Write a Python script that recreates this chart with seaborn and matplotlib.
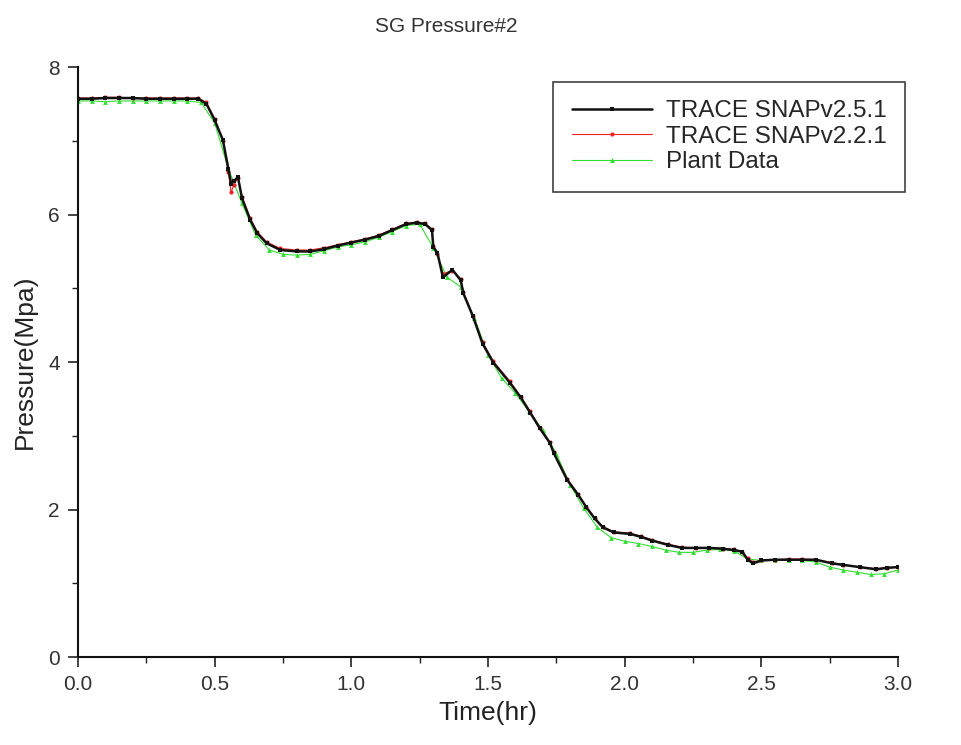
import matplotlib
matplotlib.use("Agg")
import matplotlib.pyplot as plt
import seaborn as sns
import numpy as np
from matplotlib.ticker import MultipleLocator

# ---- data ----
t_sim = [0.00, 0.05, 0.10, 0.15, 0.20, 0.25, 0.30, 0.35, 0.40, 0.44,
         0.47, 0.50, 0.53, 0.55, 0.56, 0.57, 0.585, 0.60, 0.63, 0.655,
         0.69, 0.74, 0.80, 0.85, 0.90, 0.95, 1.00, 1.05, 1.10, 1.15,
         1.20, 1.24, 1.27, 1.295, 1.30, 1.315, 1.335, 1.37, 1.40, 1.41,
         1.445, 1.48, 1.52, 1.58, 1.62, 1.655, 1.69, 1.727, 1.74, 1.79,
         1.83, 1.86, 1.89, 1.92, 1.96, 2.02, 2.06, 2.10, 2.16, 2.21,
         2.26, 2.31, 2.36, 2.40, 2.43, 2.45, 2.47, 2.50, 2.55, 2.60,
         2.65, 2.70, 2.76, 2.80, 2.86, 2.92, 2.96, 3.00]

p_v251 = [7.57, 7.57, 7.58, 7.58, 7.58, 7.57, 7.57, 7.57, 7.57, 7.57,
          7.50, 7.28, 7.01, 6.62, 6.42, 6.45, 6.51, 6.22, 5.93, 5.75,
          5.61, 5.52, 5.50, 5.50, 5.53, 5.58, 5.62, 5.66, 5.71, 5.79,
          5.87, 5.89, 5.87, 5.79, 5.56, 5.48, 5.15, 5.25, 5.11, 4.93,
          4.62, 4.25, 3.99, 3.72, 3.52, 3.31, 3.10, 2.90, 2.77, 2.40,
          2.20, 2.03, 1.88, 1.76, 1.69, 1.67, 1.63, 1.58, 1.52, 1.48,
          1.48, 1.48, 1.47, 1.45, 1.43, 1.32, 1.27, 1.31, 1.32, 1.32,
          1.32, 1.32, 1.27, 1.25, 1.22, 1.19, 1.21, 1.22]

p_v221 = [7.58, 7.58, 7.59, 7.59, 7.58, 7.58, 7.58, 7.58, 7.58, 7.58,
          7.52, 7.30, 7.00, 6.58, 6.30, 6.40, 6.50, 6.24, 5.95, 5.77,
          5.63, 5.54, 5.52, 5.52, 5.55, 5.59, 5.63, 5.67, 5.72, 5.80,
          5.88, 5.90, 5.88, 5.80, 5.58, 5.46, 5.20, 5.24, 5.13, 4.95,
          4.63, 4.27, 4.01, 3.74, 3.53, 3.33, 3.11, 2.91, 2.78, 2.42,
          2.21, 2.04, 1.89, 1.77, 1.70, 1.68, 1.64, 1.59, 1.53, 1.49,
          1.48, 1.48, 1.47, 1.46, 1.43, 1.34, 1.29, 1.31, 1.32, 1.33,
          1.33, 1.32, 1.28, 1.25, 1.22, 1.20, 1.21, 1.22]

t_plant = [0.00, 0.05, 0.10, 0.15, 0.20, 0.25, 0.30, 0.35, 0.40, 0.45,
           0.50, 0.55, 0.60, 0.65, 0.70, 0.75, 0.80, 0.85, 0.90, 0.95,
           1.00, 1.05, 1.10, 1.15, 1.20, 1.25, 1.30, 1.35, 1.40, 1.45,
           1.50, 1.55, 1.60, 1.65, 1.70, 1.75, 1.80, 1.85, 1.90, 1.95,
           2.00, 2.05, 2.10, 2.15, 2.20, 2.25, 2.30, 2.35, 2.40, 2.45,
           2.50, 2.55, 2.60, 2.65, 2.70, 2.75, 2.80, 2.85, 2.90, 2.95,
           3.00]

p_plant = [7.54, 7.54, 7.53, 7.54, 7.54, 7.54, 7.54, 7.54, 7.54, 7.52,
           7.24, 6.62, 6.15, 5.72, 5.52, 5.46, 5.45, 5.46, 5.51, 5.56,
           5.59, 5.63, 5.69, 5.77, 5.85, 5.87, 5.55, 5.15, 5.02, 4.60,
           4.10, 3.78, 3.58, 3.33, 3.08, 2.76, 2.34, 2.02, 1.76, 1.62,
           1.57, 1.54, 1.50, 1.45, 1.42, 1.42, 1.45, 1.46, 1.44, 1.33,
           1.31, 1.32, 1.32, 1.31, 1.29, 1.22, 1.18, 1.15, 1.12, 1.13,
           1.18]

x_ticks = [0.0, 0.5, 1.0, 1.5, 2.0, 2.5, 3.0]
y_ticks = [0, 2, 4, 6, 8]

# ---- style ----
sns.set_theme(style="ticks")
plt.rcParams['font.family'] = ['Liberation Sans', 'DejaVu Sans']

fig = plt.figure(figsize=(9.61, 7.45), dpi=100)
ax = fig.add_axes([0.0812, 0.118, 0.8532, 0.792])

sns.lineplot(x=t_plant, y=p_plant, ax=ax, color="#33dd33", linewidth=0.8,
             marker="^", markersize=3.5, markeredgewidth=0, label="Plant Data",
             sort=False, estimator=None)
sns.lineplot(x=t_sim, y=p_v221, ax=ax, color="#ee2222", linewidth=0.8,
             marker="o", markersize=3.0, markeredgewidth=0, label="TRACE SNAPv2.2.1",
             sort=False, estimator=None)
sns.lineplot(x=t_sim, y=p_v251, ax=ax, color="#111111", linewidth=1.8,
             marker="s", markersize=3.0, markeredgewidth=0, label="TRACE SNAPv2.5.1",
             sort=False, estimator=None)

ax.set_xlim(0, 3.0)
ax.set_ylim(0, 8)
ax.set_xticks(x_ticks)
ax.set_xticklabels([f"{v:.1f}" for v in x_ticks])
ax.set_yticks(y_ticks)
ax.set_yticklabels([str(v) for v in y_ticks])
ax.xaxis.set_minor_locator(MultipleLocator(0.25))
ax.yaxis.set_minor_locator(MultipleLocator(1))
ax.tick_params(which="major", direction="out", length=7, width=1.2,
               labelsize=15, colors="#222222", pad=6)
ax.tick_params(which="minor", direction="out", length=4, width=1.0, colors="#222222")
for lbl in ax.get_xticklabels() + ax.get_yticklabels():
    lbl.set_color("#333333")

for side in ["top", "right"]:
    ax.spines[side].set_visible(False)
for side in ["left", "bottom"]:
    ax.spines[side].set_linewidth(1.5)
    ax.spines[side].set_color("#111111")

ax.set_xlabel("Time(hr)", fontsize=19, color="#222222", labelpad=5)
ax.set_ylabel("Pressure(Mpa)", fontsize=19, color="#222222", labelpad=8)
fig.text(0.464, 0.965, "SG Pressure#2", fontsize=15, color="#333333",
         ha="center", va="center")

handles, labels = ax.get_legend_handles_labels()
order = [2, 1, 0]
leg = ax.legend([handles[i] for i in order], [labels[i] for i in order],
                loc="upper right", bbox_to_anchor=(1.009, 0.975), fontsize=17.5,
                frameon=True, fancybox=False, edgecolor="#111111",
                handlelength=3.3, handletextpad=0.6, borderpad=0.75,
                labelspacing=0.15, borderaxespad=0.0)
leg.get_frame().set_linewidth(1.2)

fig.savefig("out.png", dpi=100, facecolor="white")
